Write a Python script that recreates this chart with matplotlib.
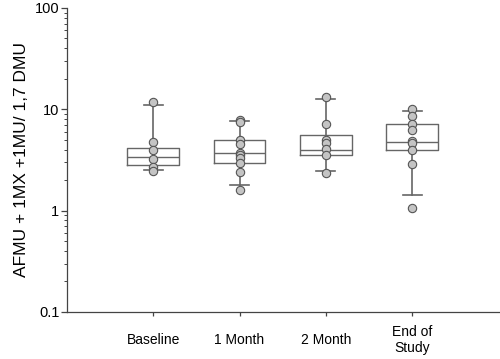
import matplotlib.pyplot as plt
from matplotlib.ticker import LogLocator, FixedFormatter, FixedLocator, NullFormatter

# group names
groups = ["Baseline", "1 Month", "2 Month", "End of\nStudy"]

# box statistics
q1 = [2.83, 2.96, 3.57, 3.94]
med = [3.36, 3.71, 4.00, 4.73]
q3 = [4.16, 5.02, 5.54, 7.18]
whislo = [2.52, 1.78, 2.44, 1.41]
whishi = [11.1, 7.73, 12.5, 9.56]

# individual points
pts_baseline = [11.7, 4.72, 4.0, 3.26, 2.68, 2.48]
pts_1month = [7.91, 7.44, 4.94, 4.59, 3.71, 3.57, 3.31, 2.96, 2.41, 1.61]
pts_2month = [13.3, 7.18, 4.94, 4.66, 4.06, 3.51, 2.36]
pts_end = [10.1, 8.66, 7.18, 6.31, 4.91, 4.66, 4.0, 2.89, 1.06]
points = [pts_baseline, pts_1month, pts_2month, pts_end]

plt.rcParams["font.family"] = ["Liberation Sans", "DejaVu Sans"]

fig = plt.figure(figsize=(5, 3.59), dpi=100)
ax = fig.add_axes([0.134, 0.131, 0.866, 0.847])

positions = [1, 2, 3, 4]
stats = []
for i in range(len(groups)):
    stats.append({"q1": q1[i], "med": med[i], "q3": q3[i],
                  "whislo": whislo[i], "whishi": whishi[i], "fliers": []})

edge = "#666666"
ax.bxp(stats, positions=positions, widths=0.6, showfliers=False,
       boxprops=dict(color=edge, linewidth=1.0),
       medianprops=dict(color=edge, linewidth=1.0),
       whiskerprops=dict(color=edge, linewidth=1.2),
       capprops=dict(color=edge, linewidth=1.2),
       capwidths=0.22)

for pos, vals in zip(positions, points):
    ax.plot([pos] * len(vals), vals, "o", ms=6, mfc="#c4c4c4",
            mec="#555555", mew=0.8, zorder=3)

ax.set_yscale("log")
ax.set_ylim(0.1, 100)
ax.set_xlim(0, 5.02)

ax.yaxis.set_major_locator(FixedLocator([0.1, 1, 10, 100]))
ax.yaxis.set_major_formatter(FixedFormatter(["0.1", "1", "10", "100"]))
ax.yaxis.set_minor_locator(LogLocator(base=10, subs=range(2, 10)))
ax.yaxis.set_minor_formatter(NullFormatter())

ax.set_xticks(positions)
ax.set_xticklabels(groups, fontsize=10)
for lbl in ax.get_xticklabels():
    lbl.set_verticalalignment("center")

ax.tick_params(axis="x", direction="out", length=3, width=0.9,
               color="#444444", pad=17)
ax.tick_params(axis="y", which="major", direction="out", length=4,
               width=0.9, color="#444444", labelsize=10.5, pad=1.5)
ax.tick_params(axis="y", which="minor", direction="out", length=2.5,
               width=0.7, color="#444444")

for side in ["top", "right"]:
    ax.spines[side].set_visible(False)
for side in ["left", "bottom"]:
    ax.spines[side].set_color("#444444")
    ax.spines[side].set_linewidth(0.9)

ax.set_ylabel("AFMU + 1MX +1MU/ 1,7 DMU", fontsize=12.5, labelpad=4)

fig.savefig("out.png", dpi=100)
